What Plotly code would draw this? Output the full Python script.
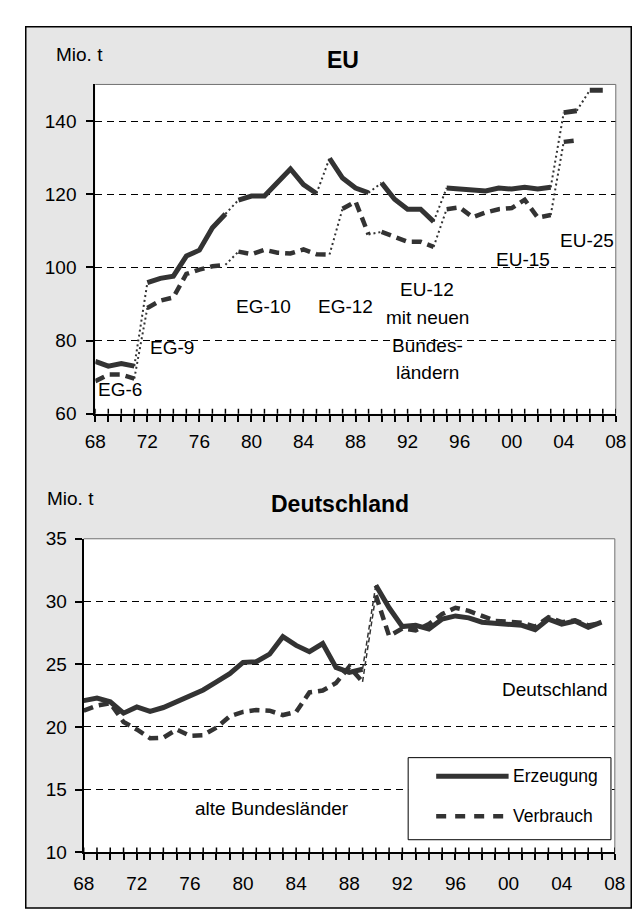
import plotly.graph_objects as go

# ---------------- data ----------------
years = list(range(1968, 2008))

eu_erzeugung = [74.3, 73.0, 73.7, 73.0, 95.8, 97.0, 97.6, 103.1, 104.7, 110.8,
                114.6, 118.4, 119.5, 119.5, 123.1, 126.9, 122.6, 120.2, 129.8, 124.4,
                121.7, 120.4, 123.1, 118.6, 115.9, 115.9, 112.5, 121.7, 121.4, 121.3,
                120.9, 121.7, 121.4, 121.9, 121.4, 121.9, 142.3, 142.8, 148.4, 148.4]
eu_verbrauch = [68.9, 70.7, 70.7, 69.6, 88.9, 90.9, 91.8, 98.2, 99.4, 100.3,
                100.7, 104.3, 103.6, 104.8, 104.0, 103.8, 104.9, 103.6, 103.5, 116.0,
                118.0, 109.0, 109.7, 108.3, 107.0, 107.0, 105.6, 115.9, 116.4, 113.7,
                115.0, 115.9, 116.2, 118.5, 113.6, 114.3, 134.3, 134.7, None, None]
# first year of each EU composition block (EG-6, EG-9, EG-10, EG-12, EU-12, EU-15, EU-25, EU-27)
eu_erz_block_starts = [1968, 1972, 1979, 1986, 1990, 1995, 2004, 2006]
eu_verb_block_starts = [1968, 1972, 1979, 1987, 1990, 1995, 2004]

de_erzeugung = [22.1, 22.3, 22.0, 21.1, 21.6, 21.25, 21.55, 22.0, 22.45, 22.95,
                23.6, 24.25, 25.15, 25.2, 25.8, 27.2, 26.5, 26.0, 26.65, 24.75,
                24.35, 24.6, 31.3, 29.5, 28.0, 28.1, 27.8, 28.6, 28.85, 28.7,
                28.35, 28.25, 28.25, 28.1, 27.75, 28.6, 28.2, 28.45, 27.95, 28.35]
de_verbrauch = [21.3, 21.7, 21.9, 20.4, 19.8, 19.1, 19.15, 19.8, 19.3, 19.35,
                19.95, 20.85, 21.2, 21.35, 21.3, 20.95, 21.2, 22.75, 22.9, 23.5,
                24.8, 23.6, 30.5, 27.25, 27.85, 27.7, 28.2, 29.0, 29.5, 29.25,
                28.85, 28.45, 28.4, 28.3, 28.0, 28.75, 28.35, 28.5, 28.1, 28.3]
de_block_starts = [1968, 1990]  # alte Bundeslaender, Deutschland

series_names = ["Erzeugung", "Verbrauch"]
x_tick_years = list(range(1968, 2009))
x_tick_text = [str(y)[-2:] if (y - 1968) % 4 == 0 else "" for y in x_tick_years]
eu_y_ticks = [60, 80, 100, 120, 140]
de_y_ticks = [10, 15, 20, 25, 30, 35]

# ---------------- styling ----------------
W, H = 641, 916
FONT = "Liberation Sans, Arial, sans-serif"
LINE = "#333333"
BG = "#e6e6e6"
DASH = "10px,6px"


def px(x):
    return x / W


def py(y):
    return 1 - y / H


def blocks(values, starts):
    bounds = starts + [years[-1] + 1]
    segs = []
    for a, b in zip(bounds[:-1], bounds[1:]):
        xs = [yr for yr, v in zip(years, values) if a <= yr < b and v is not None]
        ys = [v for yr, v in zip(years, values) if a <= yr < b and v is not None]
        if xs:
            segs.append((xs, ys))
    return segs


fig = go.Figure()


def add_series(values, starts, name, dashed, xa, ya, conn_dash, conn_w):
    segs = blocks(values, starts)
    for xs, ys in segs:
        fig.add_trace(go.Scatter(
            x=xs, y=ys, mode="lines", name=name, showlegend=False,
            xaxis=xa, yaxis=ya, hoverinfo="x+y",
            line=dict(color=LINE, width=4.5 if dashed else 5,
                      dash=DASH if dashed else "solid")))
    for (x1, y1), (x2, y2) in zip(segs[:-1], segs[1:]):
        fig.add_trace(go.Scatter(
            x=[x1[-1], x2[0]], y=[y1[-1], y2[0]], mode="lines", showlegend=False,
            xaxis=xa, yaxis=ya, hoverinfo="skip",
            line=dict(color=LINE, width=conn_w, dash=conn_dash)))


add_series(eu_erzeugung, eu_erz_block_starts, series_names[0], False, "x", "y", "2px,3px", 2)
add_series(eu_verbrauch, eu_verb_block_starts, series_names[1], True, "x", "y", "2px,3px", 2)
add_series(de_erzeugung, de_block_starts, series_names[0], False, "x2", "y2", "5px,3px", 1.5)
add_series(de_verbrauch, de_block_starts, series_names[1], True, "x2", "y2", "5px,3px", 1.5)

top_x = [px(79), px(618)]
top_y = [py(405), py(68)]
bot_x = [px(67), px(617)]
bot_y = [py(854), py(533)]

tickfont = dict(family=FONT, size=19, color="black")

xbase = dict(range=[1968, 2008], tickmode="array", tickvals=x_tick_years,
             ticktext=x_tick_text, ticks="outside", ticklen=6, tickwidth=1.5,
             tickcolor="black", showline=True, linecolor="black", linewidth=2,
             showgrid=False, zeroline=False, tickfont=tickfont, fixedrange=True)
ybase = dict(tickmode="array", ticks="outside", ticklen=7, tickwidth=1.5,
             tickcolor="black", showline=True, linecolor="black", linewidth=2,
             showgrid=True, gridcolor="black", gridwidth=1, griddash="7px,5px",
             zeroline=False, tickfont=tickfont, fixedrange=True)

fig.update_layout(
    width=W, height=H, margin=dict(l=0, r=0, t=0, b=0),
    paper_bgcolor="white", plot_bgcolor="rgba(0,0,0,0)",
    showlegend=False, font=dict(family=FONT, color="black"),
    xaxis=dict(xbase, domain=top_x, anchor="y", ticklabelstandoff=3),
    yaxis=dict(ybase, domain=top_y, anchor="x", range=[60, 150],
               tickvals=eu_y_ticks, ticklabelstandoff=6),
    xaxis2=dict(xbase, domain=bot_x, anchor="y2", ticklabelstandoff=7),
    yaxis2=dict(ybase, domain=bot_y, anchor="x2", range=[10, 35],
                tickvals=de_y_ticks, ticklabelstandoff=4),
)

shapes = [
    # outer grey frame
    dict(type="rect", xref="paper", yref="paper", x0=px(7), x1=px(634),
         y0=py(911), y1=py(9), fillcolor=BG, line=dict(color="black", width=1.5),
         layer="below"),
]
for xr, yr, hpx in (("x", "y", 337), ("x2", "y2", 321)):
    # white plot area
    shapes.append(dict(type="rect", xref=f"{xr} domain", yref=f"{yr} domain",
                       x0=0, x1=1, y0=0, y1=1, fillcolor="white",
                       line=dict(width=0), layer="below"))
    # thin top and right border
    shapes.append(dict(type="line", xref=f"{xr} domain", yref=f"{yr} domain",
                       x0=0, x1=1, y0=1, y1=1, line=dict(color="#707070", width=1),
                       layer="above"))
    shapes.append(dict(type="line", xref=f"{xr} domain", yref=f"{yr} domain",
                       x0=1, x1=1, y0=0, y1=1, line=dict(color="#707070", width=1),
                       layer="above"))
    # inner half of the crossing x ticks
    for t in x_tick_years:
        shapes.append(dict(type="line", xref=xr, yref=f"{yr} domain",
                           x0=t, x1=t, y0=0, y1=5 / hpx,
                           line=dict(color="black", width=1.5), layer="above"))

# custom legend (bottom chart)
shapes.append(dict(type="rect", xref="paper", yref="paper", x0=px(403), x1=px(613),
                   y0=py(841), y1=py(757), fillcolor="white",
                   line=dict(color="black", width=1), layer="above"))
shapes.append(dict(type="line", xref="paper", yref="paper", x0=px(432), x1=px(507),
                   y0=py(776), y1=py(776), line=dict(color=LINE, width=5),
                   layer="above"))
shapes.append(dict(type="line", xref="paper", yref="paper", x0=px(432), x1=px(507),
                   y0=py(817), y1=py(817), line=dict(color=LINE, width=4.5, dash="10px,9px"),
                   layer="above"))

ann = []


def text(x, y, s, size=19, bold=False, xanchor="center"):
    ann.append(dict(x=px(x), y=py(y), xref="paper", yref="paper",
                    text=f"<b>{s}</b>" if bold else s, showarrow=False,
                    xanchor=xanchor, yanchor="middle",
                    font=dict(family=FONT, size=size, color="black")))


text(335, 43, "EU", 23, True)
text(332, 497, "Deutschland", 23, True)
text(63, 37, "Mio. t")
text(53.5, 492, "Mio. t")
text(105, 380, "EG-6")
text(158, 337, "EG-9")
text(253, 295, "EG-10")
text(338, 295, "EG-12")
text(423, 278, "EU-12")
text(423, 307, "mit neuen")
text(423, 335, "Bundes-")
text(423, 363, "ländern")
text(522, 247, "EU-15")
text(588, 228, "EU-25")
text(555, 687, "Deutschland")
text(262, 809, "alte Bundesländer")
text(509, 776, series_names[0], 17.5, xanchor="left")
text(509, 817, series_names[1], 17.5, xanchor="left")

fig.update_layout(shapes=shapes, annotations=ann)
fig.write_html("out.html")
